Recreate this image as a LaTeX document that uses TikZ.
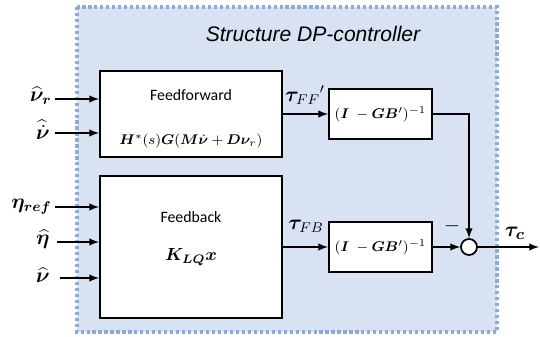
\documentclass[tikz,border=0pt]{standalone}
\usepackage{fontspec}
\usepackage{bm}
\setmainfont{Carlito}
\newfontfamily\titlefont{Liberation Sans}
\usetikzlibrary{arrows}

\definecolor{panelblue}{HTML}{D9E2F3}
\definecolor{dotblue}{HTML}{8EAADB}

\tikzset{
  block/.style={draw,line width=1.1pt,fill=white,inner sep=0pt},
  sumnode/.style={draw,circle,line width=1pt,fill=white,minimum size=0.32cm,inner sep=0pt},
  sig/.style={line width=0.9pt},
  inlabel/.style={anchor=east,inner sep=0pt,font=\fontsize{12}{14}\selectfont}
}

\begin{document}
\begin{tikzpicture}[x=0.02cm,y=-0.02cm]

\useasboundingbox (0,0) rectangle (540,337);

% panel
\draw[fill=panelblue,draw=dotblue,line width=1.8pt,dash pattern=on 1.8pt off 1.6pt] (77,7) rectangle (497,332);
\node (title) at (313,34) {\titlefont\itshape\fontsize{12}{14}\selectfont Structure DP-controller};

% blocks
\node[block,minimum width=3.64cm,minimum height=1.72cm] (ff) at (191,114) {};
\node[block,minimum width=3.64cm,minimum height=2.84cm] (fb) at (191,247) {};
\node[block,minimum width=2.06cm,minimum height=1.0cm] (invff) at (380.5,114) {\fontsize{8.5}{10}\selectfont$(\bm{I}\;-\bm{G}\bm{B}')^{-1}$};
\node[block,minimum width=2.06cm,minimum height=1.0cm] (invfb) at (380.5,247) {\fontsize{8.5}{10}\selectfont$(\bm{I}\;-\bm{G}\bm{B}')^{-1}$};
\node[sumnode] (sum) at (469,247) {};

\node (fftext) at (191,95) {\fontsize{9}{11}\selectfont Feedforward};
\node (fflaw) at (191,141) {\fontsize{8.5}{10}\selectfont$\bm{H}^{*}(s)\bm{G}(\bm{M}\dot{\bm{\nu}}+\bm{D}\bm{\nu}_{r})$};
\node (fbtext) at (191,217) {\fontsize{9}{11}\selectfont Feedback};
\node (fblaw) at (191,257) {\fontsize{10}{12}\selectfont$\bm{K}_{\bm{LQ}}\bm{x}$};

% inputs
\node[inlabel] (nur) at (52,96) {$\widehat{\bm{\nu}}_{\bm{r}}$};
\node[inlabel] (nudot) at (50,130) {$\widehat{\dot{\bm{\nu}}}$};
\node[inlabel] (etaref) at (52,207) {$\bm{\eta}_{\bm{ref}}$};
\node[inlabel] (etahat) at (50,239) {$\widehat{\bm{\eta}}$};
\node[inlabel] (nuhat) at (50,275) {$\widehat{\bm{\nu}}$};

\draw[sig,-latex] (55,99) -- (ff.west |- 0,99);
\draw[sig,-latex] (55,133) -- (ff.west |- 0,133);
\draw[sig,-latex] (55,207) -- (fb.west |- 0,207);
\draw[sig,-latex] (57,242) -- (fb.west |- 0,242);
\draw[sig,-latex] (60,278) -- (fb.west |- 0,278);

% forward path
\draw[sig,-latex] (ff.east) -- (invff.west);
\draw[sig,-latex] (fb.east) -- (invfb.west);
\draw[sig,-latex] (invff.east) -| (sum.north);
\draw[sig,-latex] (invfb.east) -- (sum.west);
\coordinate (out) at (539,247);
\draw[sig,-latex] (sum.east) -- (out);

% signal labels
\node (tauff) at (305,95) {\fontsize{12}{14}\selectfont${\bm{\tau}_{FF}}'$};
\node (taufb) at (306,226) {\fontsize{12}{14}\selectfont$\bm{\tau}_{FB}$};
\node (minus) at (452,226) {\fontsize{12}{14}\selectfont$-$};
\node (tauc) at (515,233) {\fontsize{13}{15}\selectfont$\bm{\tau}_{\bm{c}}$};

\end{tikzpicture}
\end{document}
